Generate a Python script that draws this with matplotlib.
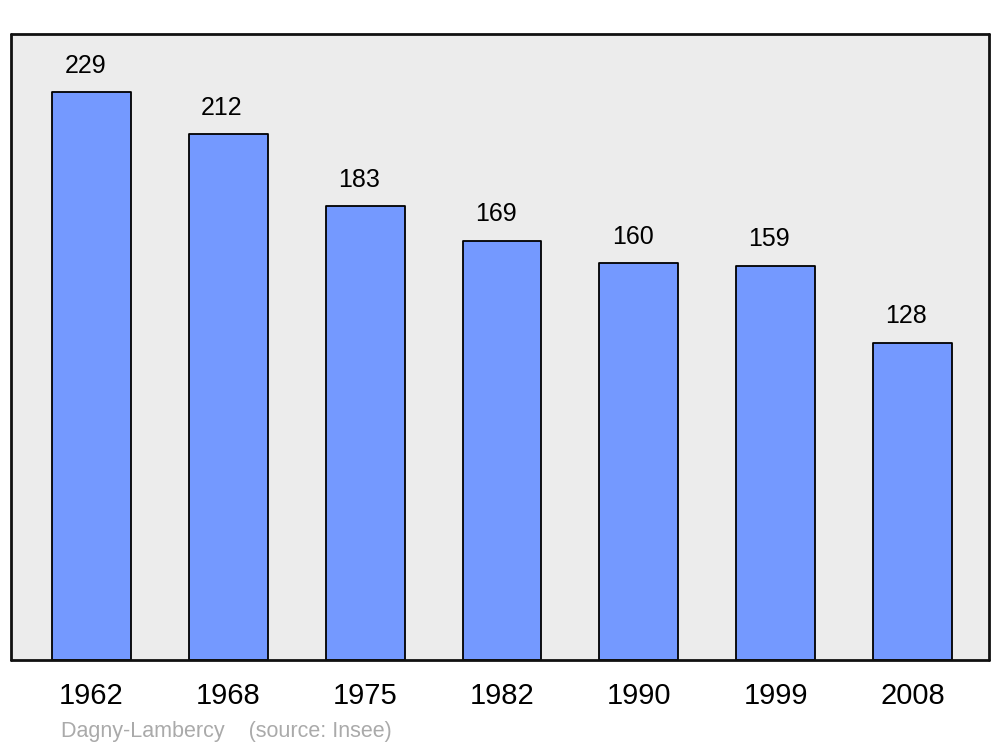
import matplotlib
matplotlib.use("Agg")
import matplotlib.pyplot as plt

years = ["1962", "1968", "1975", "1982", "1990", "1999", "2008"]
population = [229, 212, 183, 169, 160, 159, 128]
source_text = "Dagny-Lambercy    (source: Insee)"

plt.rcParams['font.family'] = ['Liberation Sans', 'DejaVu Sans']

fig = plt.figure(figsize=(10, 7.47), dpi=100)
W, H = 1000, 747
ax = fig.add_axes([11 / W, 1 - 660 / H, (989 - 11) / W, (660 - 34) / H])
ax.set_facecolor('#ececec')

x = list(range(len(years)))
bars = ax.bar(x, population, width=0.577, color='#7499ff', edgecolor='black', linewidth=1.3, zorder=2)
for b in bars:
    b.set_joinstyle('round')

ax.set_xlim(-0.588, 6.559)
ax.set_ylim(0, 252.4)

for xi, v in zip(x, population):
    ax.annotate(str(v), (xi, v), xytext=(-4.5, 19), textcoords='offset points',
                ha='center', va='center', fontsize=18, color='black')

ax.set_xticks(x)
ax.set_xticklabels(years, fontsize=21)
ax.tick_params(axis='x', length=0, pad=16)
ax.set_yticks([])

for s in ax.spines.values():
    s.set_linewidth(2)
    s.set_color('#111111')
    s.set_joinstyle('round')
    s.set_capstyle('round')

fig.text(61 / W, 1 - 731 / H, source_text, ha='left', va='center', fontsize=15.5, color='#aaaaaa')

fig.savefig('out.png', dpi=100, facecolor='white')
